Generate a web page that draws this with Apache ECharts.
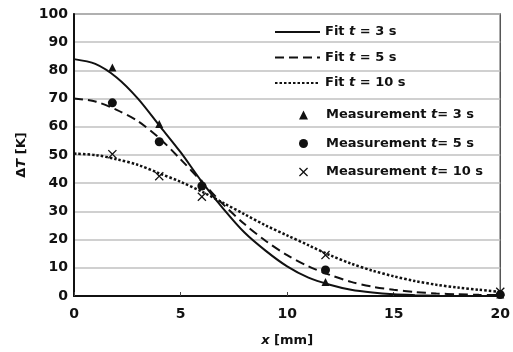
<!DOCTYPE html>
<html>
<head>
<meta charset="utf-8">
<script src="https://cdn.jsdelivr.net/npm/echarts@6/dist/echarts.min.js"></script>
<style>
  html, body { margin: 0; padding: 0; background: #fff; }
  #chart { width: 513px; height: 352px; }
</style>
</head>
<body>
<div id="chart"></div>
<script>
// fit curves, read every 1 mm
const fitX = [0, 1, 2, 3, 4, 5, 6, 7, 8, 9, 10, 11, 12, 13, 14, 15, 16, 17, 18, 19, 20];
const fit3 = [84, 82.3, 77.5, 70, 60.5, 51, 40.5, 31, 22.5, 16, 10.5, 6.5, 4, 2.2, 1.2, 0.6, 0.3, 0.1, 0, 0, 0];
const fit5 = [70, 69, 66, 62, 56, 48.5, 40.5, 32.5, 25.5, 19.5, 14.5, 10.5, 7.5, 5, 3.3, 2.2, 1.4, 0.9, 0.6, 0.4, 0.3];
const fit10 = [50.5, 50, 48.5, 46.5, 43.5, 40.5, 37, 33, 29, 25, 21.5, 18, 14.5, 11.5, 9, 7, 5.3, 4, 3, 2.2, 1.5];

// measurements
const measX = [1.8, 4, 6, 11.8, 20];
const meas3 = [81, 61, 40, 5, 0.5];
const meas5 = [68.5, 54.7, 39, 9.2, 0.5];
const meas10 = [50.3, 42.5, 35.2, 14.5, 1.5];

const xTicks = [0, 5, 10, 15, 20];
const yTicks = [0, 10, 20, 30, 40, 50, 60, 70, 80, 90, 100];

const fitNames = ["Fit t = 3 s", "Fit t = 5 s", "Fit t = 10 s"];
const measNames = ["Measurement t= 3 s", "Measurement t= 5 s", "Measurement t= 10 s"];

const ink = "#111";
const font = "DejaVu Sans";
const crossPath = "path://M0,1L1,0L5,4L9,0L10,1L6,5L10,9L9,10L5,6L1,10L0,9L4,5Z";

const pairs = (xs, ys) => xs.map((x, i) => [x, ys[i]]);

const italic = { fontFamily: font, fontWeight: "bold", fontStyle: "italic", fontSize: 13, color: ink };
const boldText = (extra) =>
  Object.assign({ fontFamily: font, fontWeight: "bold", fontSize: 13, color: ink, rich: { i: italic } }, extra);

const lineSeries = (name, ys, type, width) => ({
  type: "line",
  name: name,
  data: pairs(fitX, ys),
  smooth: 0.3,
  symbol: "none",
  lineStyle: { color: ink, width: width, type: type },
  itemStyle: { color: ink },
  z: 3,
});

const dotSeries = (name, ys, symbol, size) => ({
  type: "scatter",
  name: name,
  data: pairs(measX, ys),
  symbol: symbol,
  symbolSize: size,
  itemStyle: { color: ink, opacity: 1 },
  z: 4,
});

const c = echarts.init(document.getElementById("chart"));
c.setOption({
  animation: false,
  grid: {
    left: 74,
    right: 11,
    top: 14,
    bottom: 56,
    show: true,
    borderColor: "#555",
    borderWidth: 1.5,
  },
  legend: [
    {
      orient: "vertical",
      left: 269,
      top: 20,
      itemWidth: 45,
      itemHeight: 10,
      itemGap: 11.5,
      textStyle: boldText({ lineHeight: 14 }),
      formatter: (name) => name.replace(" t", " {i|t}"),
      data: fitNames.map((n) => ({ name: n, itemStyle: { opacity: 0 } })),
    },
    {
      orient: "vertical",
      left: 294,
      top: 103,
      itemWidth: 9,
      itemHeight: 9,
      itemGap: 14.5,
      textStyle: boldText({ lineHeight: 14, padding: [0, 0, 0, 13] }),
      formatter: (name) => name.replace(" t", " {i|t}"),
      data: measNames,
    },
  ],
  xAxis: {
    type: "value",
    min: xTicks[0],
    max: xTicks[xTicks.length - 1],
    interval: 5,
    name: "{i|x} [mm]",
    nameLocation: "middle",
    nameGap: 38,
    nameTextStyle: boldText({}),
    axisLine: { lineStyle: { color: ink, width: 2 } },
    axisTick: { show: true, inside: true, length: 4, lineStyle: { color: "#444" } },
    axisLabel: { fontFamily: font, fontWeight: "bold", fontSize: 14, color: ink, margin: 11 },
    splitLine: { show: false },
  },
  yAxis: {
    type: "value",
    min: yTicks[0],
    max: yTicks[yTicks.length - 1],
    interval: 10,
    name: "Δ{i|T} [K]",
    nameLocation: "middle",
    nameGap: 44,
    nameTextStyle: boldText({}),
    axisLine: { show: true, lineStyle: { color: ink, width: 2 } },
    axisTick: { show: false },
    axisLabel: { fontFamily: font, fontWeight: "bold", fontSize: 14, color: ink, margin: 6 },
    splitLine: { lineStyle: { color: "#c0c0c0", width: 1.5 } },
  },
  series: [
    lineSeries(fitNames[0], fit3, "solid", 2),
    lineSeries(fitNames[1], fit5, [9, 5], 2),
    lineSeries(fitNames[2], fit10, [2.5, 2], 2.5),
    dotSeries(measNames[0], meas3, "triangle", 8),
    dotSeries(measNames[1], meas5, "circle", 9),
    dotSeries(measNames[2], meas10, crossPath, 9),
  ],
});
</script>
</body>
</html>
